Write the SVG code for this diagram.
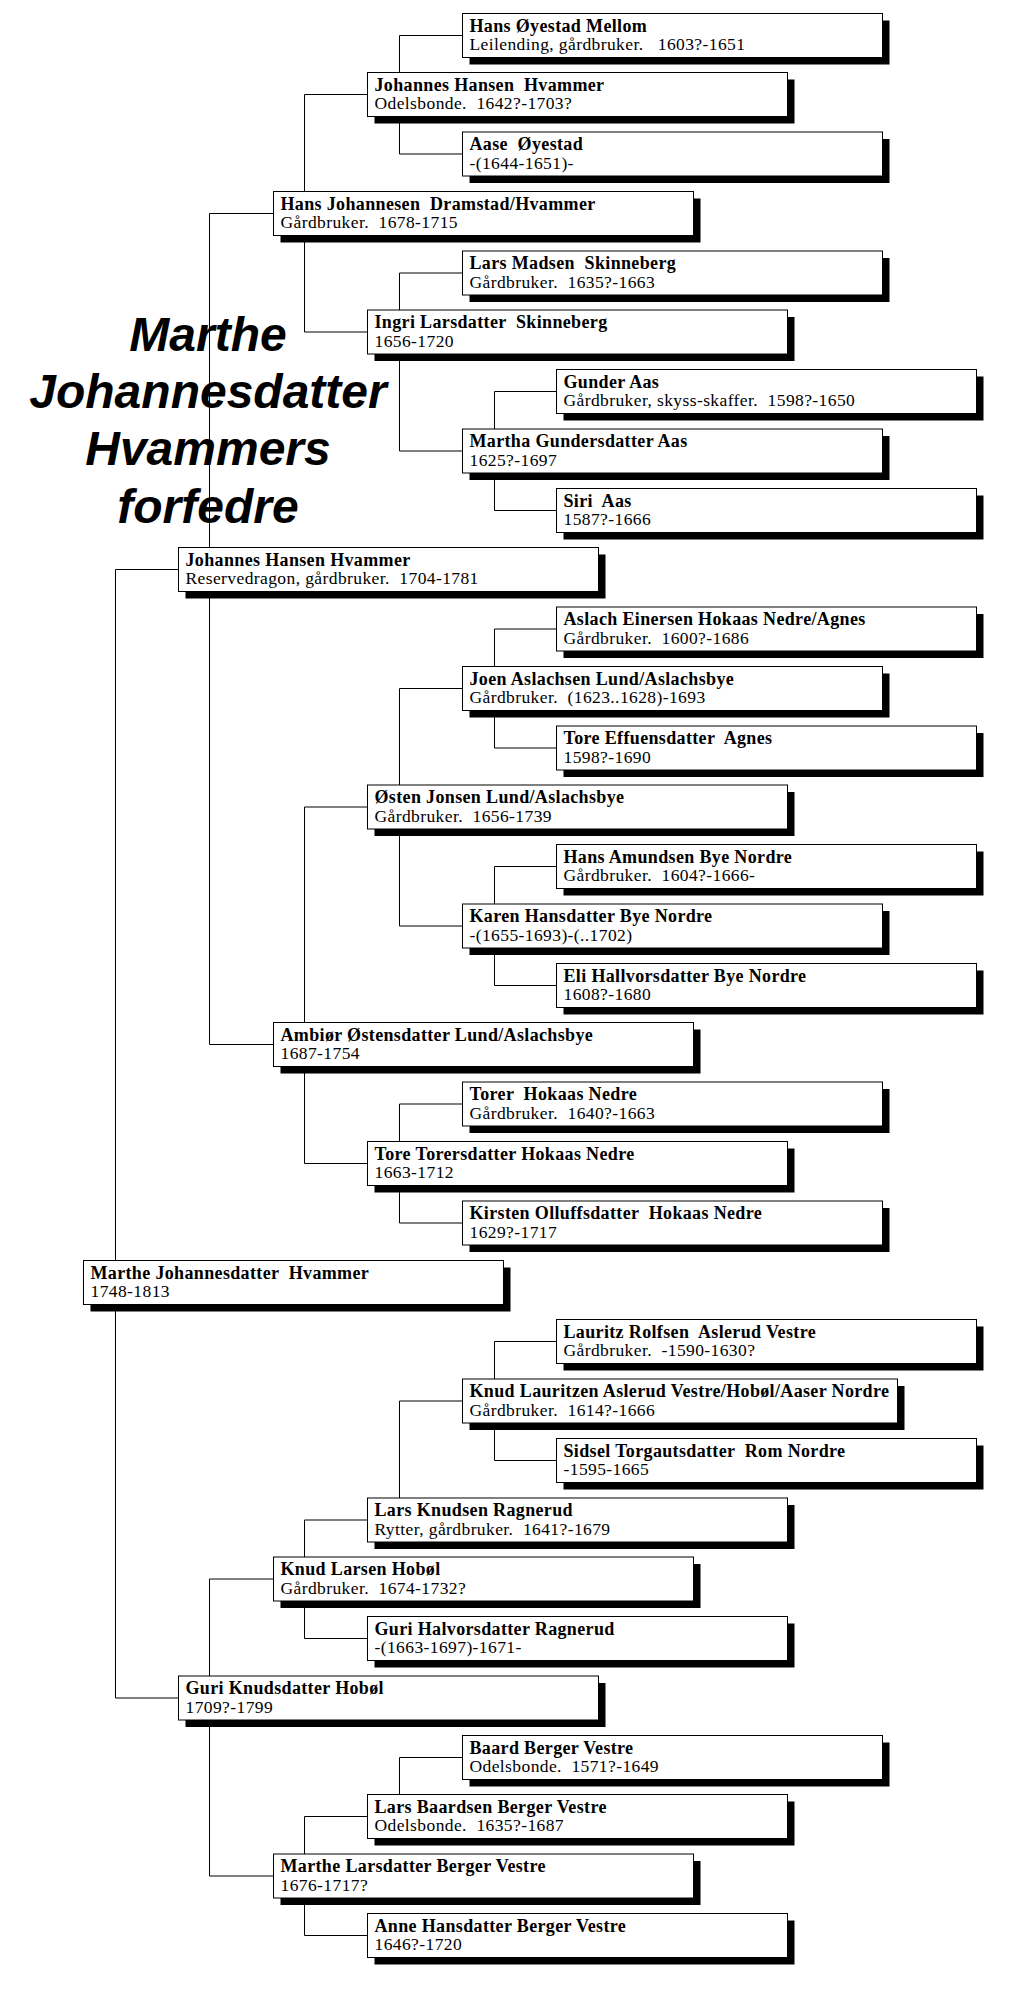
<svg xmlns="http://www.w3.org/2000/svg" width="1034" height="1992" viewBox="0 0 1034 1992">
<style>
.sh{fill:#000}
.bx{fill:#fff;stroke:#000;stroke-width:1}
.n{font-family:"Liberation Serif","Times New Roman",serif;font-weight:bold;font-size:18px;letter-spacing:0.35px;fill:#000;white-space:pre}
.d{font-family:"Liberation Serif","Times New Roman",serif;font-size:17.5px;letter-spacing:0.4px;fill:#000;white-space:pre}
.ln{fill:none;stroke:#000;stroke-width:1}
.t{font-family:"Liberation Sans",Arial,sans-serif;font-weight:bold;font-style:italic;font-size:48px;text-anchor:middle;fill:#000}
</style>
<rect width="1034" height="1992" fill="#fff"/>
<g id="connectors">
<path class="ln" d="M178.5,569.5 H115.5 V1698 H178.5"/>
<path class="ln" d="M273.5,213.5 H209.5 V1044.5 H273.5"/>
<path class="ln" d="M367.5,94.5 H304.5 V332 H367.5"/>
<path class="ln" d="M462.5,35.5 H399.5 V154 H462.5"/>
<path class="ln" d="M462.5,273 H399.5 V451 H462.5"/>
<path class="ln" d="M556.5,391.5 H494.5 V510.5 H556.5"/>
<path class="ln" d="M367.5,807 H304.5 V1163.5 H367.5"/>
<path class="ln" d="M462.5,688.5 H399.5 V926 H462.5"/>
<path class="ln" d="M556.5,629 H494.5 V748 H556.5"/>
<path class="ln" d="M556.5,866.5 H494.5 V985.5 H556.5"/>
<path class="ln" d="M462.5,1104 H399.5 V1223 H462.5"/>
<path class="ln" d="M273.5,1579 H209.5 V1876 H273.5"/>
<path class="ln" d="M367.5,1520 H304.5 V1638.5 H367.5"/>
<path class="ln" d="M462.5,1401 H399.5 V1498"/>
<path class="ln" d="M556.5,1341.5 H494.5 V1460.5 H556.5"/>
<path class="ln" d="M367.5,1816.5 H304.5 V1935.5 H367.5"/>
<path class="ln" d="M462.5,1757.5 H399.5 V1794.5"/>
</g>
<g id="title">
<text class="t" x="208" y="350.7">Marthe</text>
<text class="t" x="208" y="408">Johannesdatter</text>
<text class="t" x="208" y="465">Hvammers</text>
<text class="t" x="208" y="522.7">forfedre</text>
</g>
<g id="p00" transform="translate(462.5,13.5)"><rect class="sh" x="7" y="7" width="420" height="44"/><rect class="bx" width="420" height="44"/><text class="n" x="7" y="18">Hans Øyestad Mellom</text><text class="d" x="7" y="36.5">Leilending, gårdbruker.   1603?-1651</text></g>
<g id="p01" transform="translate(367.5,72.5)"><rect class="sh" x="7" y="7" width="420" height="44"/><rect class="bx" width="420" height="44"/><text class="n" x="7" y="18">Johannes Hansen  Hvammer</text><text class="d" x="7" y="36.5">Odelsbonde.  1642?-1703?</text></g>
<g id="p02" transform="translate(462.5,132)"><rect class="sh" x="7" y="7" width="420" height="44"/><rect class="bx" width="420" height="44"/><text class="n" x="7" y="18">Aase  Øyestad</text><text class="d" x="7" y="36.5">-(1644-1651)-</text></g>
<g id="p03" transform="translate(273.5,191.5)"><rect class="sh" x="7" y="7" width="420" height="44"/><rect class="bx" width="420" height="44"/><text class="n" x="7" y="18">Hans Johannesen  Dramstad/Hvammer</text><text class="d" x="7" y="36.5">Gårdbruker.  1678-1715</text></g>
<g id="p04" transform="translate(462.5,251)"><rect class="sh" x="7" y="7" width="420" height="44"/><rect class="bx" width="420" height="44"/><text class="n" x="7" y="18">Lars Madsen  Skinneberg</text><text class="d" x="7" y="36.5">Gårdbruker.  1635?-1663</text></g>
<g id="p05" transform="translate(367.5,310)"><rect class="sh" x="7" y="7" width="420" height="44"/><rect class="bx" width="420" height="44"/><text class="n" x="7" y="18">Ingri Larsdatter  Skinneberg</text><text class="d" x="7" y="36.5">1656-1720</text></g>
<g id="p06" transform="translate(556.5,369.5)"><rect class="sh" x="7" y="7" width="420" height="44"/><rect class="bx" width="420" height="44"/><text class="n" x="7" y="18">Gunder Aas</text><text class="d" x="7" y="36.5">Gårdbruker, skyss-skaffer.  1598?-1650</text></g>
<g id="p07" transform="translate(462.5,429)"><rect class="sh" x="7" y="7" width="420" height="44"/><rect class="bx" width="420" height="44"/><text class="n" x="7" y="18">Martha Gundersdatter Aas</text><text class="d" x="7" y="36.5">1625?-1697</text></g>
<g id="p08" transform="translate(556.5,488.5)"><rect class="sh" x="7" y="7" width="420" height="44"/><rect class="bx" width="420" height="44"/><text class="n" x="7" y="18">Siri  Aas</text><text class="d" x="7" y="36.5">1587?-1666</text></g>
<g id="p09" transform="translate(178.5,547.5)"><rect class="sh" x="7" y="7" width="420" height="44"/><rect class="bx" width="420" height="44"/><text class="n" x="7" y="18">Johannes Hansen Hvammer</text><text class="d" x="7" y="36.5">Reservedragon, gårdbruker.  1704-1781</text></g>
<g id="p10" transform="translate(556.5,607)"><rect class="sh" x="7" y="7" width="420" height="44"/><rect class="bx" width="420" height="44"/><text class="n" x="7" y="18">Aslach Einersen Hokaas Nedre/Agnes</text><text class="d" x="7" y="36.5">Gårdbruker.  1600?-1686</text></g>
<g id="p11" transform="translate(462.5,666.5)"><rect class="sh" x="7" y="7" width="420" height="44"/><rect class="bx" width="420" height="44"/><text class="n" x="7" y="18">Joen Aslachsen Lund/Aslachsbye</text><text class="d" x="7" y="36.5">Gårdbruker.  (1623..1628)-1693</text></g>
<g id="p12" transform="translate(556.5,726)"><rect class="sh" x="7" y="7" width="420" height="44"/><rect class="bx" width="420" height="44"/><text class="n" x="7" y="18">Tore Effuensdatter  Agnes</text><text class="d" x="7" y="36.5">1598?-1690</text></g>
<g id="p13" transform="translate(367.5,785)"><rect class="sh" x="7" y="7" width="420" height="44"/><rect class="bx" width="420" height="44"/><text class="n" x="7" y="18">Østen Jonsen Lund/Aslachsbye</text><text class="d" x="7" y="36.5">Gårdbruker.  1656-1739</text></g>
<g id="p14" transform="translate(556.5,844.5)"><rect class="sh" x="7" y="7" width="420" height="44"/><rect class="bx" width="420" height="44"/><text class="n" x="7" y="18">Hans Amundsen Bye Nordre</text><text class="d" x="7" y="36.5">Gårdbruker.  1604?-1666-</text></g>
<g id="p15" transform="translate(462.5,904)"><rect class="sh" x="7" y="7" width="420" height="44"/><rect class="bx" width="420" height="44"/><text class="n" x="7" y="18">Karen Hansdatter Bye Nordre</text><text class="d" x="7" y="36.5">-(1655-1693)-(..1702)</text></g>
<g id="p16" transform="translate(556.5,963.5)"><rect class="sh" x="7" y="7" width="420" height="44"/><rect class="bx" width="420" height="44"/><text class="n" x="7" y="18">Eli Hallvorsdatter Bye Nordre</text><text class="d" x="7" y="36.5">1608?-1680</text></g>
<g id="p17" transform="translate(273.5,1022.5)"><rect class="sh" x="7" y="7" width="420" height="44"/><rect class="bx" width="420" height="44"/><text class="n" x="7" y="18">Ambiør Østensdatter Lund/Aslachsbye</text><text class="d" x="7" y="36.5">1687-1754</text></g>
<g id="p18" transform="translate(462.5,1082)"><rect class="sh" x="7" y="7" width="420" height="44"/><rect class="bx" width="420" height="44"/><text class="n" x="7" y="18">Torer  Hokaas Nedre</text><text class="d" x="7" y="36.5">Gårdbruker.  1640?-1663</text></g>
<g id="p19" transform="translate(367.5,1141.5)"><rect class="sh" x="7" y="7" width="420" height="44"/><rect class="bx" width="420" height="44"/><text class="n" x="7" y="18">Tore Torersdatter Hokaas Nedre</text><text class="d" x="7" y="36.5">1663-1712</text></g>
<g id="p20" transform="translate(462.5,1201)"><rect class="sh" x="7" y="7" width="420" height="44"/><rect class="bx" width="420" height="44"/><text class="n" x="7" y="18">Kirsten Olluffsdatter  Hokaas Nedre</text><text class="d" x="7" y="36.5">1629?-1717</text></g>
<g id="p21" transform="translate(83.5,1260.5)"><rect class="sh" x="7" y="7" width="420" height="44"/><rect class="bx" width="420" height="44"/><text class="n" x="7" y="18">Marthe Johannesdatter  Hvammer</text><text class="d" x="7" y="36.5">1748-1813</text></g>
<g id="p22" transform="translate(556.5,1319.5)"><rect class="sh" x="7" y="7" width="420" height="44"/><rect class="bx" width="420" height="44"/><text class="n" x="7" y="18">Lauritz Rolfsen  Aslerud Vestre</text><text class="d" x="7" y="36.5">Gårdbruker.  -1590-1630?</text></g>
<g id="p23" transform="translate(462.5,1379)"><rect class="sh" x="7" y="7" width="435" height="44"/><rect class="bx" width="435" height="44"/><text class="n" x="7" y="18">Knud Lauritzen Aslerud Vestre/Hobøl/Aaser Nordre</text><text class="d" x="7" y="36.5">Gårdbruker.  1614?-1666</text></g>
<g id="p24" transform="translate(556.5,1438.5)"><rect class="sh" x="7" y="7" width="420" height="44"/><rect class="bx" width="420" height="44"/><text class="n" x="7" y="18">Sidsel Torgautsdatter  Rom Nordre</text><text class="d" x="7" y="36.5">-1595-1665</text></g>
<g id="p25" transform="translate(367.5,1498)"><rect class="sh" x="7" y="7" width="420" height="44"/><rect class="bx" width="420" height="44"/><text class="n" x="7" y="18">Lars Knudsen Ragnerud</text><text class="d" x="7" y="36.5">Rytter, gårdbruker.  1641?-1679</text></g>
<g id="p26" transform="translate(273.5,1557)"><rect class="sh" x="7" y="7" width="420" height="44"/><rect class="bx" width="420" height="44"/><text class="n" x="7" y="18">Knud Larsen Hobøl</text><text class="d" x="7" y="36.5">Gårdbruker.  1674-1732?</text></g>
<g id="p27" transform="translate(367.5,1616.5)"><rect class="sh" x="7" y="7" width="420" height="44"/><rect class="bx" width="420" height="44"/><text class="n" x="7" y="18">Guri Halvorsdatter Ragnerud</text><text class="d" x="7" y="36.5">-(1663-1697)-1671-</text></g>
<g id="p28" transform="translate(178.5,1676)"><rect class="sh" x="7" y="7" width="420" height="44"/><rect class="bx" width="420" height="44"/><text class="n" x="7" y="18">Guri Knudsdatter Hobøl</text><text class="d" x="7" y="36.5">1709?-1799</text></g>
<g id="p29" transform="translate(462.5,1735.5)"><rect class="sh" x="7" y="7" width="420" height="44"/><rect class="bx" width="420" height="44"/><text class="n" x="7" y="18">Baard Berger Vestre</text><text class="d" x="7" y="36.5">Odelsbonde.  1571?-1649</text></g>
<g id="p30" transform="translate(367.5,1794.5)"><rect class="sh" x="7" y="7" width="420" height="44"/><rect class="bx" width="420" height="44"/><text class="n" x="7" y="18">Lars Baardsen Berger Vestre</text><text class="d" x="7" y="36.5">Odelsbonde.  1635?-1687</text></g>
<g id="p31" transform="translate(273.5,1854)"><rect class="sh" x="7" y="7" width="420" height="44"/><rect class="bx" width="420" height="44"/><text class="n" x="7" y="18">Marthe Larsdatter Berger Vestre</text><text class="d" x="7" y="36.5">1676-1717?</text></g>
<g id="p32" transform="translate(367.5,1913.5)"><rect class="sh" x="7" y="7" width="420" height="44"/><rect class="bx" width="420" height="44"/><text class="n" x="7" y="18">Anne Hansdatter Berger Vestre</text><text class="d" x="7" y="36.5">1646?-1720</text></g>
</svg>
